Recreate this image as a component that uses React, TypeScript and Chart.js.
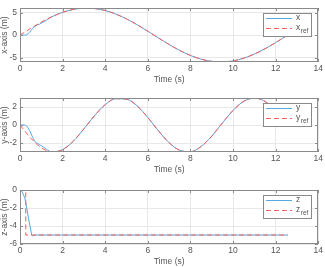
import { useEffect, useRef } from "react";
import { Chart, registerables } from "chart.js";

Chart.register(...registerables);

// ---- data ----
const timeTicks = [0, 2, 4, 6, 8, 10, 12, 14];
const xAxisTicks = [-5, 0, 5];
const yAxisTicks = [-2, 0, 2];
const zAxisTicks = [-6, -4, -2, 0];

const tRef = [0, 0.5, 1, 1.5, 2, 2.5, 3, 3.5, 4, 4.5, 5, 5.5, 6, 6.5, 7, 7.5, 8, 8.5, 9, 9.5, 10, 10.5, 11, 11.5, 12, 12.5, 12.57];
const tAct = [0, 0.2, 0.3, 0.45, 0.6, 0.75, 0.9, 1.1, 1.5, 2, 2.5, 3, 3.5, 4, 4.5, 5, 5.5, 6, 6.5, 7, 7.5, 8, 8.5, 9, 9.5, 10, 10.5, 11, 11.5, 12, 12.5, 12.57];

const xRef = [0, 1.48, 2.88, 4.09, 5.05, 5.69, 5.98, 5.9, 5.46, 4.67, 3.59, 2.29, 0.85, -0.65, -2.1, -3.43, -4.54, -5.36, -5.86, -5.99, -5.75, -5.15, -4.23, -3.05, -1.68, -0.2, 0];
const xAct = [0, 0, 0.05, 0.6, 1.5, 2.1, 2.4, 2.9, 4.09, 5.05, 5.69, 5.98, 5.9, 5.46, 4.67, 3.59, 2.29, 0.85, -0.65, -2.1, -3.43, -4.54, -5.36, -5.86, -5.99, -5.75, -5.15, -4.23, -3.05, -1.68, -0.2, 0];

const yRef = [0, -1.44, -2.52, -2.99, -2.73, -1.8, -0.42, 1.05, 2.27, 2.93, 2.88, 2.13, 0.84, -0.65, -1.97, -2.81, -2.97, -2.39, -1.24, 0.23, 1.63, 2.64, 3.0, 2.63, 1.61, 0.2, 0.01];
const yAct = [0, 0, -0.1, -0.6, -1.4, -1.95, -2.15, -2.45, -2.99, -2.73, -1.8, -0.42, 1.05, 2.27, 2.93, 2.88, 2.13, 0.84, -0.65, -1.97, -2.81, -2.97, -2.39, -1.24, 0.23, 1.63, 2.64, 3.0, 2.63, 1.61, 0.2, 0.01];

const tZAct = [0, 0.08, 0.23, 0.31, 0.39, 0.47, 0.55, 0.58, 0.7, 12.57];
const zAct = [0, -0.1, -0.9, -1.9, -3.05, -4.0, -5.0, -5.1, -5, -5];
const tZRef = [0, 0.27, 0.27, 12.57];
const zRef = [0, 0, -5, -5];

// ---- styles ----
const BLUE = "#55a8e2";
const RED = "#ff5c5c";
const FONT = "'Liberation Sans', Arial, sans-serif";
const TXT = "#555555";
const FRAME = "#8a8a8a";

const matlabPlugin = {
  id: "matlabFrame",
  afterDraw(chart: any) {
    const { ctx, chartArea: a } = chart;
    const xs = chart.scales.x;
    const ys = chart.scales.y;
    const L = Math.round(a.left), R = Math.round(a.right), T = Math.round(a.top), B = Math.round(a.bottom);
    ctx.save();
    ctx.strokeStyle = FRAME;
    ctx.lineWidth = 1;
    ctx.setLineDash([]);
    ctx.strokeRect(L + 0.5, T + 0.5, R - L - 1, B - T - 1);
    ctx.beginPath();
    xs.ticks.forEach((tk: any) => {
      const px = Math.round(xs.getPixelForValue(tk.value)) + 0.5;
      ctx.moveTo(px, B); ctx.lineTo(px, B - 3);
      ctx.moveTo(px, T); ctx.lineTo(px, T + 3);
    });
    ys.ticks.forEach((tk: any) => {
      const py = Math.round(ys.getPixelForValue(tk.value)) + 0.5;
      ctx.moveTo(L, py); ctx.lineTo(L + 3, py);
      ctx.moveTo(R, py); ctx.lineTo(R - 3, py);
    });
    ctx.stroke();

    // legend
    const bw = 48, bh = 23;
    const bx = R - 7 - bw;
    const by = T + 5;
    ctx.fillStyle = "#ffffff";
    ctx.fillRect(bx, by, bw, bh);
    ctx.strokeStyle = FRAME;
    ctx.strokeRect(bx + 0.5, by + 0.5, bw, bh);
    const ds = chart.data.datasets;
    ds.forEach((d: any, i: number) => {
      const y = by + 5.5 + i * 10;
      ctx.beginPath();
      ctx.strokeStyle = d.borderColor;
      ctx.lineWidth = 1;
      ctx.setLineDash(d.borderDash || []);
      ctx.moveTo(bx + 3, y);
      ctx.lineTo(bx + 29, y);
      ctx.stroke();
      ctx.setLineDash([]);
      const parts = String(d.label).split("_");
      ctx.fillStyle = TXT;
      ctx.textBaseline = "middle";
      ctx.textAlign = "left";
      ctx.font = `8.5px ${FONT}`;
      ctx.fillText(parts[0], bx + 33, y - 0.5);
      if (parts[1]) {
        const w = ctx.measureText(parts[0]).width;
        ctx.font = `6.5px ${FONT}`;
        ctx.fillText(parts[1], bx + 33 + w + 0.5, y + 3);
      }
    });
    ctx.restore();
  },
};

function series(label: string, t: number[], v: number[], color: string, dashed: boolean, smooth: boolean) {
  return {
    label,
    data: t.map((tt, i) => ({ x: tt, y: v[i] })),
    borderColor: color,
    backgroundColor: color,
    borderWidth: 1,
    borderDash: dashed ? [5, 3] : [],
    pointRadius: 0,
    fill: false,
    cubicInterpolationMode: smooth ? "monotone" : "default",
    tension: 0,
    order: dashed ? 0 : 1,
  };
}

function makeConfig(datasets: any[], yMin: number, yMax: number, yTicks: number[], yTitle: string) {
  const tickFont = { family: FONT, size: 8.5 };
  return {
    type: "line",
    data: { datasets },
    options: {
      animation: false,
      responsive: false,
      devicePixelRatio: 1,
      layout: { padding: { top: 2, right: 6, left: 0, bottom: 0 } },
      plugins: { legend: { display: false }, tooltip: { enabled: false } },
      scales: {
        x: {
          type: "linear",
          min: 0,
          max: 14,
          afterBuildTicks: (s: any) => { s.ticks = timeTicks.map((v) => ({ value: v })); },
          afterFit: (s: any) => { s.height = 28; },
          grid: { color: "#e8e8e8", drawTicks: false },
          border: { display: false },
          ticks: { padding: 2, color: TXT, font: tickFont, maxRotation: 0, autoSkip: false },
          title: { display: true, text: "Time (s)", color: TXT, font: tickFont, padding: { top: 0, bottom: 5 } },
        },
        y: {
          type: "linear",
          min: yMin,
          max: yMax,
          afterBuildTicks: (s: any) => { s.ticks = yTicks.map((v) => ({ value: v })); },
          afterFit: (s: any) => { s.width = 20; },
          grid: { color: "#e8e8e8", drawTicks: false },
          border: { display: false },
          ticks: { padding: 3, color: TXT, font: tickFont, autoSkip: false },
          title: { display: true, text: yTitle, color: TXT, font: tickFont, padding: { top: 0, bottom: 0 } },
        },
      },
    },
    plugins: [matlabPlugin],
  };
}

function Plot({ top, config }: { top: number; config: any }) {
  const ref = useRef<HTMLCanvasElement>(null);
  useEffect(() => {
    if (!ref.current) return;
    const chart = new Chart(ref.current, config);
    return () => chart.destroy();
  }, [config]);
  return (
    <canvas
      ref={ref}
      width={325}
      height={90}
      style={{ position: "absolute", left: 0, top, width: 325, height: 90 }}
    />
  );
}

const cfgX = makeConfig(
  [series("x", tAct, xAct, BLUE, false, true), series("x_ref", tRef, xRef, RED, true, true)],
  -6, 6, xAxisTicks, "x-axis (m)"
);
const cfgY = makeConfig(
  [series("y", tAct, yAct, BLUE, false, true), series("y_ref", tRef, yRef, RED, true, true)],
  -3, 3, yAxisTicks, "y-axis (m)"
);
const cfgZ = makeConfig(
  [series("z", tZAct, zAct, BLUE, false, false), series("z_ref", tZRef, zRef, RED, true, false)],
  -6, 0, zAxisTicks, "z-axis (m)"
);

export default function App() {
  return (
    <div style={{ position: "absolute", left: 0, top: 0, width: 325, height: 267, overflow: "hidden", background: "#fff" }}>
      <Plot top={0} config={cfgX} />
      <Plot top={90} config={cfgY} />
      <Plot top={182} config={cfgZ} />
    </div>
  );
}
